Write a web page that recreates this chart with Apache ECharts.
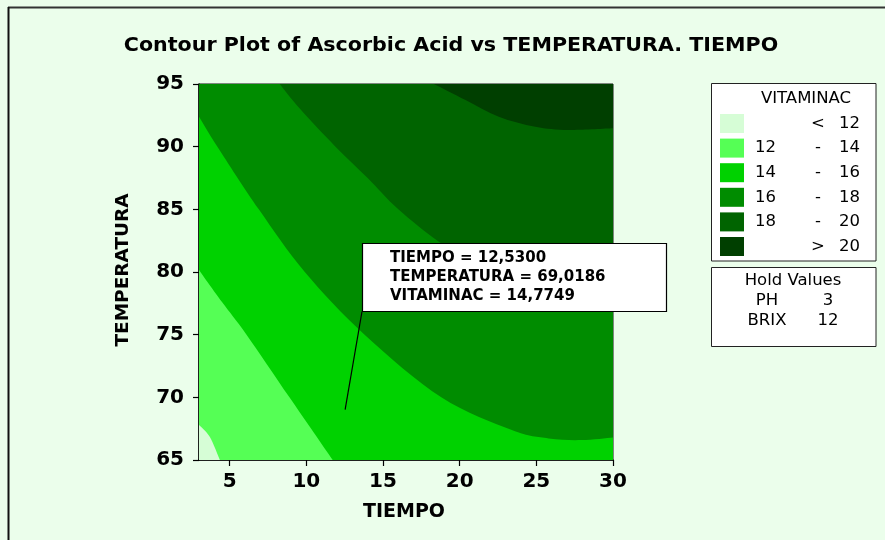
<!DOCTYPE html>
<html><head><meta charset="utf-8">
<script src="https://cdn.jsdelivr.net/npm/echarts@6/dist/echarts.min.js"></script>
<style>html,body{margin:0;padding:0;background:#EBFEEB;}#c{width:885px;height:540px;}</style>
</head><body><div id="c"></div>
<script>
// ---- data ----
const titleText = 'Contour Plot of Ascorbic Acid vs TEMPERATURA. TIEMPO';
const xName = 'TIEMPO';
const yName = 'TEMPERATURA';
const zName = 'VITAMINAC';
const xRange = [3, 30];
const yRange = [65, 95];
const xTicks = [5, 10, 15, 20, 25, 30];
const yTicks = [65, 70, 75, 80, 85, 90, 95];
// level colours: <12, 12-14, 14-16, 16-18, 18-20, >20
const levelColors = ['#D6FDD6', '#55FF55', '#00D200', '#008C00', '#006400', '#003F00'];
const legendLow  = ['', '12', '14', '16', '18', ''];
const legendSep  = ['<', '-', '-', '-', '-', '>'];
const legendHigh = ['12', '14', '16', '18', '20', '20'];
// contour boundaries (TIEMPO, TEMPERATURA)
const b12 = [[3, 67.8], [3.7, 66.85], [4.36, 65]];
const b14 = [[3, 80.16], [4.5, 77.6], [6.1, 75], [8.9, 70], [11.72, 65]];
const b16 = [[3, 92.39], [4.2, 90], [6.9, 85], [9.9, 80], [13.8, 75], [18.8, 70], [23.4, 67.39],
             [25.8, 66.72], [27.95, 66.59], [30, 66.8]];
const b18 = [[8.26, 95], [9.6, 93], [11.9, 90], [14, 87.5], [16, 85], [18.65, 82.41], [21.5, 80.3],
             [24.5, 78.9], [27.5, 78.3], [30, 78.1]];
const b20 = [[18.32, 95], [20.38, 93.72], [22.55, 92.39], [24.93, 91.59], [27.09, 91.33], [30, 91.46]];
const holdNames = ['PH', 'BRIX'];
const holdValues = ['3', '12'];
const flagPoint = [12.53, 69.0186];
const flagZ = 14.7749;

// ---- build region polygons: boundary curve + closing corners ----
const X0 = xRange[0], X1 = xRange[1], Y0 = yRange[0], Y1 = yRange[1];
const regions = [
  { curve: [[X0, Y0], [X1, Y0]], corners: [[X1, Y1], [X0, Y1]], color: levelColors[5], straight: true },
  { curve: b20, corners: [[X1, Y0], [X0, Y0], [X0, Y1]], color: levelColors[4] },
  { curve: b18, corners: [[X1, Y0], [X0, Y0], [X0, Y1]], color: levelColors[3] },
  { curve: b16, corners: [[X1, Y0], [X0, Y0]], color: levelColors[2] },
  { curve: b14, corners: [[X0, Y0]], color: levelColors[1] },
  { curve: b12, corners: [[X0, Y0]], color: levelColors[0] }
];

function smoothPath(pts, corners, straight) {
  let d = 'M' + pts[0][0] + ' ' + pts[0][1];
  const n = pts.length;
  for (let i = 0; i < n - 1; i++) {
    if (straight) { d += ' L' + pts[i + 1][0] + ' ' + pts[i + 1][1]; continue; }
    const p0 = pts[Math.max(i - 1, 0)], p1 = pts[i], p2 = pts[i + 1], p3 = pts[Math.min(i + 2, n - 1)];
    const c1x = p1[0] + (p2[0] - p0[0]) / 6, c1y = p1[1] + (p2[1] - p0[1]) / 6;
    const c2x = p2[0] - (p3[0] - p1[0]) / 6, c2y = p2[1] - (p3[1] - p1[1]) / 6;
    d += ' C' + c1x + ' ' + c1y + ' ' + c2x + ' ' + c2y + ' ' + p2[0] + ' ' + p2[1];
  }
  corners.forEach(c => { d += ' L' + c[0] + ' ' + c[1]; });
  return d + ' Z';
}

const chart = echarts.init(document.getElementById('c'), null, { renderer: 'canvas' });
const fmt = v => v.toFixed(4).replace('.', ',');
const FONT = '"DejaVu Sans", Verdana, sans-serif';

const grid = { left: 199, top: 84, width: 414, height: 376 };

function buildGraphic(pt) {
  const g = [];
  // outer frame
  g.push({ type: 'line', shape: { x1: 8, y1: 7.5, x2: 885, y2: 7.5 }, style: { stroke: '#333', lineWidth: 2 }, z: 100 });
  g.push({ type: 'line', shape: { x1: 8.5, y1: 7, x2: 8.5, y2: 540 }, style: { stroke: '#111', lineWidth: 2 }, z: 100 });
  // title
  g.push({ type: 'text', x: 451, y: 46, scaleX: 1.03, z: 100, style: { text: titleText, font: 'bold 20px ' + FONT, fill: '#000', textAlign: 'center', textVerticalAlign: 'middle' } });
  // axis names
  g.push({ type: 'text', x: 404, y: 512, z: 100, style: { text: xName, font: 'bold 19px ' + FONT, fill: '#000', textAlign: 'center', textVerticalAlign: 'middle' } });
  g.push({ type: 'text', x: 123, y: 270, rotation: Math.PI / 2, z: 100, style: { text: yName, font: 'bold 18.5px ' + FONT, fill: '#000', textAlign: 'center', textVerticalAlign: 'middle' } });
  // leader line + annotation box
  if (pt) {
    g.push({ type: 'line', shape: { x1: 362, y1: 311.5, x2: pt[0], y2: pt[1] }, style: { stroke: '#000', lineWidth: 1.2 }, z: 100 });
  }
  g.push({ type: 'rect', shape: { x: 362.5, y: 243.5, width: 304, height: 68 }, style: { fill: '#fff', stroke: '#000', lineWidth: 1.2 }, z: 101 });
  const ann = [xName + ' = ' + fmt(flagPoint[0]), yName + ' = ' + fmt(flagPoint[1]), zName + ' = ' + fmt(flagZ)];
  ann.forEach((t, i) => {
    g.push({ type: 'text', x: 390, y: 258.5 + i * 19, z: 102, style: { text: t, font: 'bold 15px ' + FONT, fill: '#000', textAlign: 'left', textVerticalAlign: 'middle' } });
  });
  // legend box
  const LF = '16.5px ' + FONT;
  g.push({ type: 'rect', shape: { x: 711.5, y: 83.5, width: 164.5, height: 177.5 }, style: { fill: '#fff', stroke: '#222', lineWidth: 1 }, z: 100 });
  g.push({ type: 'text', x: 806, y: 99, z: 101, style: { text: zName, font: LF, fill: '#000', textAlign: 'center', textVerticalAlign: 'middle' } });
  levelColors.forEach((c, i) => {
    const y = 114 + i * 24.6;
    g.push({ type: 'rect', shape: { x: 720, y: y, width: 24, height: 19 }, style: { fill: c }, z: 101 });
    const cy = y + 9.5;
    if (legendLow[i]) g.push({ type: 'text', x: 755, y: cy, z: 101, style: { text: legendLow[i], font: LF, fill: '#000', textAlign: 'left', textVerticalAlign: 'middle' } });
    g.push({ type: 'text', x: 818, y: cy, z: 101, style: { text: legendSep[i], font: LF, fill: '#000', textAlign: 'center', textVerticalAlign: 'middle' } });
    g.push({ type: 'text', x: 839, y: cy, z: 101, style: { text: legendHigh[i], font: LF, fill: '#000', textAlign: 'left', textVerticalAlign: 'middle' } });
  });
  // hold values box
  g.push({ type: 'rect', shape: { x: 711.5, y: 267.5, width: 164.5, height: 79 }, style: { fill: '#fff', stroke: '#222', lineWidth: 1 }, z: 100 });
  g.push({ type: 'text', x: 793, y: 281, z: 101, style: { text: 'Hold Values', font: LF, fill: '#000', textAlign: 'center', textVerticalAlign: 'middle' } });
  holdNames.forEach((n, i) => {
    const cy = 300.5 + i * 20.5;
    g.push({ type: 'text', x: 767, y: cy, z: 101, style: { text: n, font: LF, fill: '#000', textAlign: 'center', textVerticalAlign: 'middle' } });
    g.push({ type: 'text', x: 828, y: cy, z: 101, style: { text: holdValues[i], font: LF, fill: '#000', textAlign: 'center', textVerticalAlign: 'middle' } });
  });
  return g;
}

const option = {
  backgroundColor: '#EBFEEB',
  animation: false,
  grid: Object.assign({ show: true, borderColor: '#111', borderWidth: 1, backgroundColor: 'transparent' }, grid),
  xAxis: {
    type: 'value', min: X0, max: X1,
    axisLine: { show: true, onZero: false, lineStyle: { color: '#000', width: 1.5 } },
    axisTick: { show: true, length: 6, customValues: xTicks, lineStyle: { color: '#000', width: 1.2 } },
    axisLabel: { customValues: xTicks, margin: 12, color: '#000', fontSize: 20, fontWeight: 'bold', fontFamily: FONT },
    splitLine: { show: false }
  },
  yAxis: {
    type: 'value', min: Y0, max: Y1, interval: 5,
    axisLine: { show: true, onZero: false, lineStyle: { color: '#000', width: 1.5 } },
    axisTick: { show: true, length: 6, lineStyle: { color: '#000', width: 1.2 } },
    axisLabel: { margin: 15, color: '#000', fontSize: 20, fontWeight: 'bold', fontFamily: FONT },
    splitLine: { show: false }
  },
  series: [{
    type: 'custom',
    coordinateSystem: 'cartesian2d',
    clip: true,
    silent: true,
    data: regions.map((r, i) => [r.curve[0][0], r.curve[0][1], i]),
    encode: { x: 0, y: 1 },
    renderItem: function (params, api) {
      const r = regions[api.value(2)];
      const cp = r.curve.map(p => api.coord(p));
      const kp = r.corners.map(p => api.coord(p));
      return { type: 'path', shape: { pathData: smoothPath(cp, kp, r.straight) }, style: { fill: r.color, stroke: null } };
    }
  }],
  graphic: { elements: buildGraphic(null) }
};
chart.setOption(option);
const px = chart.convertToPixel({ gridIndex: 0 }, flagPoint);
chart.setOption({ graphic: { elements: buildGraphic(px) } }, { replaceMerge: ['graphic'] });
</script></body></html>
